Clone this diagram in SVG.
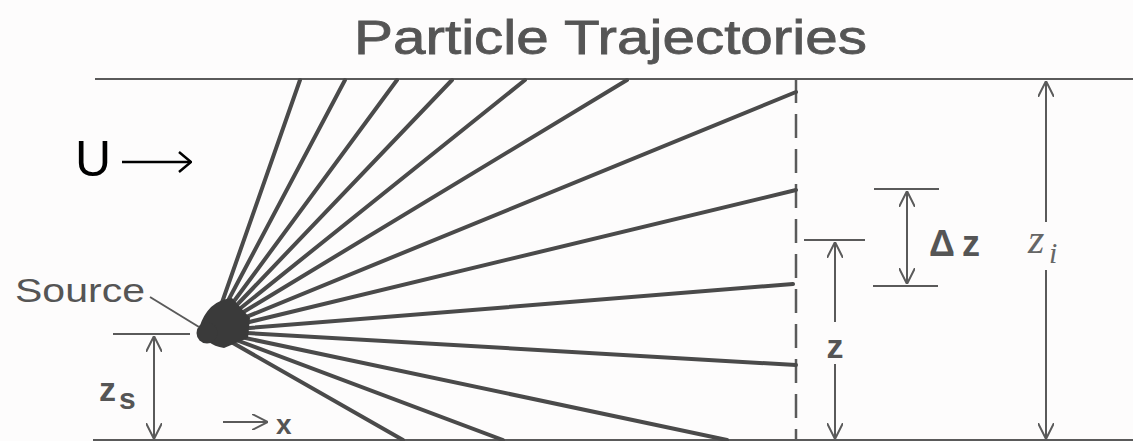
<svg xmlns="http://www.w3.org/2000/svg" width="1133" height="441" viewBox="0 0 1133 441">
<style>
.ray{stroke:#4a4a4a;stroke-width:4;stroke-linecap:round;fill:none}
.thin{stroke:#5a5a5a;stroke-width:2;fill:none}
.dim{stroke:#5a5a5a;stroke-width:2;fill:none;marker-start:url(#ah);marker-end:url(#ah)}
.lbl{font-family:"Liberation Sans",Arial,sans-serif;fill:#555}
</style>
<defs>
<marker id="ah" viewBox="0 0 16 16" refX="16" refY="8" markerWidth="16" markerHeight="16" markerUnits="userSpaceOnUse" orient="auto-start-reverse">
<path d="M0,0 L16,8 L0,16" fill="none" stroke="#5a5a5a" stroke-width="2"/>
</marker>
<marker id="ahb" viewBox="0 0 14 22" refX="13" refY="11" markerWidth="14" markerHeight="22" markerUnits="userSpaceOnUse" orient="auto">
<path d="M1,1 L13,11 L1,21" fill="none" stroke="#000" stroke-width="2.5"/>
</marker>
</defs>
<rect width="1133" height="441" fill="#fdfcfc"/>
<g id="title"><text class="lbl" x="354" y="54" font-size="48" textLength="513" lengthAdjust="spacingAndGlyphs" stroke="#555" stroke-width="0.8">Particle Trajectories</text></g>
<g id="boundaries">
<line class="thin" x1="95" y1="79" x2="1133" y2="79"/>
<line class="thin" x1="93" y1="440" x2="1133" y2="440"/>
<line x1="796" y1="79" x2="796" y2="440" stroke="#5a5a5a" stroke-width="2.5" stroke-dasharray="24 11"/>
</g>
<g id="connectors">
<line class="ray" x1="212" y1="331" x2="300" y2="80"/>
<line class="ray" x1="212" y1="331" x2="345" y2="80"/>
<line class="ray" x1="212" y1="331" x2="397" y2="80"/>
<line class="ray" x1="212" y1="331" x2="452" y2="80"/>
<line class="ray" x1="212" y1="331" x2="525" y2="80"/>
<line class="ray" x1="212" y1="331" x2="627" y2="80"/>
<line class="ray" x1="212" y1="331" x2="796" y2="92"/>
<line class="ray" x1="212" y1="331" x2="796" y2="190"/>
<line class="ray" x1="212" y1="331" x2="793" y2="284"/>
<line class="ray" x1="212" y1="331" x2="796" y2="365"/>
<line class="ray" x1="212" y1="331" x2="727" y2="440"/>
<line class="ray" x1="212" y1="331" x2="503" y2="440"/>
<line class="ray" x1="212" y1="331" x2="403" y2="440"/>
</g>
<g id="source">
<path d="M199,328 Q208,300 232,298 L250,318 L248,338 L224,348 Q205,345 199,328 Z" fill="#3a3a3a"/>
<circle cx="207" cy="333" r="10.5" fill="#3a3a3a"/>
<line class="thin" x1="150" y1="297" x2="199" y2="327"/>
<text class="lbl" x="15" y="302" font-size="33" textLength="130" lengthAdjust="spacingAndGlyphs">Source</text>
</g>
<g id="wind">
<text x="75" y="176" font-family="Liberation Sans,Arial,sans-serif" font-size="50" fill="#000">U</text>
<line x1="122" y1="162" x2="191" y2="162" stroke="#000" stroke-width="2.5" marker-end="url(#ahb)"/>
</g>
<g id="zs">
<line class="thin" x1="113" y1="334" x2="190" y2="334"/>
<line class="dim" x1="154" y1="336" x2="154" y2="439"/>
<text class="lbl" x="99" y="401" font-size="34" font-weight="bold">z</text>
<text class="lbl" x="119" y="409" font-size="30" font-weight="bold">s</text>
</g>
<g id="xaxis">
<line class="thin" x1="223" y1="422" x2="268" y2="422" marker-end="url(#ah)"/>
<text class="lbl" x="276" y="434" font-size="28" font-weight="bold">x</text>
</g>
<g id="dz">
<line class="thin" x1="874" y1="189" x2="939" y2="189"/>
<line class="thin" x1="873" y1="286" x2="938" y2="286"/>
<line class="dim" x1="907" y1="191" x2="907" y2="284"/>
<text class="lbl" x="929" y="256" font-size="36" font-weight="bold" textLength="51" lengthAdjust="spacing">Δz</text>
</g>
<g id="z">
<line class="thin" x1="804" y1="240" x2="865" y2="240"/>
<path class="thin" d="M835,322 V242" style="marker-end:url(#ah)"/>
<path class="thin" d="M835,364 V439" style="marker-end:url(#ah)"/>
<text class="lbl" x="835" y="358" font-size="34" font-weight="bold" text-anchor="middle">z</text>
</g>
<g id="zi">
<path class="thin" d="M1046,222 V81" style="marker-end:url(#ah)"/>
<path class="thin" d="M1046,270 V439" style="marker-end:url(#ah)"/>
<text x="1028" y="253" font-family="Liberation Serif,Times New Roman,serif" font-style="italic" font-size="42" fill="#666">z</text>
<text x="1049" y="263" font-family="Liberation Serif,Times New Roman,serif" font-style="italic" font-size="30" fill="#666">i</text>
</g>
</svg>
